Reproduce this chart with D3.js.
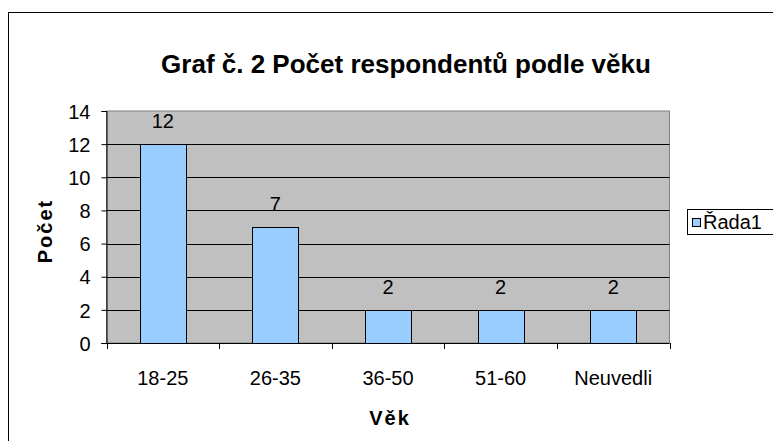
<!DOCTYPE html>
<html><head><meta charset="utf-8">
<script src="https://cdn.jsdelivr.net/npm/d3@7/dist/d3.min.js"></script>
<style>body{margin:0;background:#fff}svg{display:block}text{font-family:"Liberation Sans",Arial,sans-serif}</style>
</head><body><svg id="c" width="773" height="441"></svg>
<script>
const categories = ["18-25","26-35","36-50","51-60","Neuvedli"];
const values = [12,7,2,2,2];
const yTicks = [0,2,4,6,8,10,12,14];
const seriesName = "Řada1";
const title = "Graf č. 2 Počet respondentů podle věku";
const xTitle = "Věk", yTitle = "Počet";

const FF = "Liberation Sans, Arial, sans-serif";
const svg = d3.select("#c");
svg.append("rect").attr("x",8.5).attr("y",12.5).attr("width",800).attr("height",500)
  .attr("fill","#fff").attr("stroke","#000");

const L=106.5, R=669.5, T=111, B=343;
const x = d3.scaleBand().domain(categories).range([L,R]);
const y = d3.scaleLinear().domain([0,14]).range([B,T]);

svg.append("rect").attr("x",L).attr("y",T).attr("width",R-L).attr("height",B-T)
  .attr("fill","#C0C0C0").attr("stroke","#808080");

svg.append("g").selectAll("line").data(yTicks.filter(d=>d>0&&d<14)).join("line")
  .attr("x1",L).attr("x2",R).attr("y1",d=>Math.round(y(d))+0.5).attr("y2",d=>Math.round(y(d))+0.5)
  .attr("stroke","#000");

const bw = 46;
svg.append("g").selectAll("rect").data(values).join("rect")
  .attr("x",(d,i)=>Math.round(x(categories[i])+x.bandwidth()/2-bw/2)+0.5)
  .attr("y",d=>Math.round(y(d))+0.5)
  .attr("width",bw).attr("height",d=>Math.round(y(0))-Math.round(y(d)))
  .attr("fill","#99CCFF").attr("stroke","#000");

svg.append("g").selectAll("text").data(values).join("text")
  .attr("x",(d,i)=>x(categories[i])+x.bandwidth()/2)
  .attr("y",d=>y(d)-16).attr("text-anchor","middle")
  .attr("font-size",20).text(d=>d);

// axes
const yAxis = d3.axisLeft(y).tickValues(yTicks).tickSize(5).tickPadding(11);
const gy = svg.append("g").attr("transform",`translate(${L},0)`).call(yAxis);
gy.selectAll("text").attr("font-size",20).attr("font-family",FF).attr("fill","#000").attr("dy","0.36em");
gy.selectAll("line,path").attr("stroke","#000");

const xAxis = d3.axisBottom(x).tickSize(0).tickPadding(0);
const gx = svg.append("g").attr("transform",`translate(0,${B+0.5})`).call(xAxis);
gx.select("path").attr("stroke","#000").attr("d",`M${L-5},0H${R}`);
gx.selectAll("text").attr("font-size",20).attr("font-family",FF).attr("fill","#000").attr("y",41.5).attr("dy",0);
svg.append("g").selectAll("line").data(categories.map((c,i)=>i).concat([categories.length])).join("line")
  .attr("x1",i=>Math.round(i<categories.length?x(categories[i]):R)+0.5)
  .attr("x2",i=>Math.round(i<categories.length?x(categories[i]):R)+0.5)
  .attr("y1",B).attr("y2",B+6).attr("stroke","#000");

svg.append("text").attr("x",406).attr("y",73).attr("text-anchor","middle")
  .attr("font-size",26).attr("font-weight","bold").text(title);
svg.append("text").attr("x",390).attr("y",425).attr("text-anchor","middle")
  .attr("font-size",20).attr("font-weight","bold").attr("letter-spacing",2).text(xTitle);
svg.append("text").attr("transform","translate(52,231) rotate(-90)").attr("text-anchor","middle")
  .attr("font-size",20).attr("font-weight","bold").attr("letter-spacing",2).text(yTitle);

// legend
const lg = svg.append("g");
lg.append("rect").attr("x",687.5).attr("y",209.5).attr("width",100).attr("height",25).attr("fill","#fff").attr("stroke","#000");
lg.append("rect").attr("x",692.5).attr("y",218.5).attr("width",8).attr("height",8).attr("fill","#99CCFF").attr("stroke","#000");
lg.append("text").attr("x",703).attr("y",229).attr("font-size",20).text(seriesName);
</script></body></html>
